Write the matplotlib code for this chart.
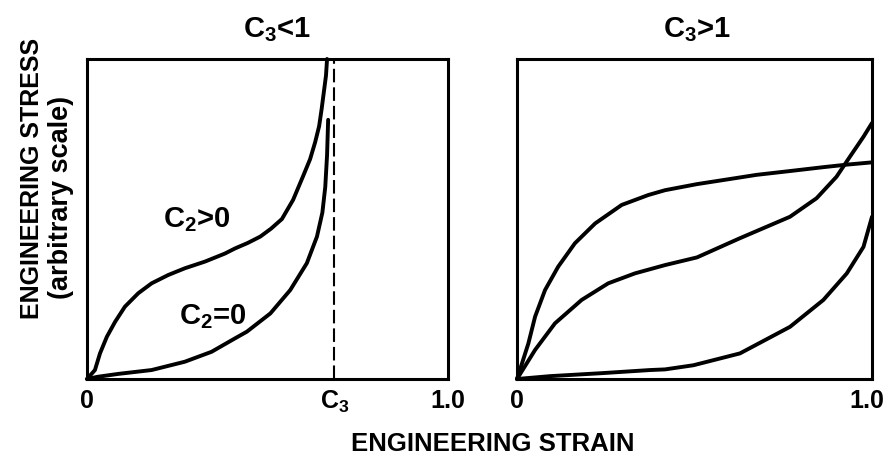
import numpy as np
import matplotlib
matplotlib.use("Agg")
import matplotlib.pyplot as plt
import matplotlib.transforms as mtransforms

plt.rcParams['font.family'] = ['Liberation Sans', 'DejaVu Sans']
plt.rcParams['font.weight'] = 'bold'

# left panel (C3 < 1), strain vs stress, arbitrary scale
c3 = 0.685
c2_pos_x = [0, 0.022, 0.036, 0.055, 0.078, 0.105, 0.142, 0.179, 0.225, 0.271,
            0.327, 0.382, 0.41, 0.445, 0.48, 0.51, 0.54, 0.571, 0.599, 0.618,
            0.632, 0.643, 0.65, 0.656, 0.662, 0.665]
c2_pos_y = [0, 0.028, 0.08, 0.132, 0.179, 0.226, 0.268, 0.299, 0.325, 0.346,
            0.367, 0.392, 0.408, 0.425, 0.445, 0.47, 0.50, 0.56, 0.635, 0.687,
            0.74, 0.79, 0.844, 0.896, 0.948, 1.0]
c2_zero_x = [0, 0.03, 0.087, 0.179, 0.271, 0.345, 0.41, 0.443, 0.508, 0.563,
             0.609, 0.637, 0.652, 0.660, 0.665, 0.668]
c2_zero_y = [0, 0.007, 0.016, 0.028, 0.054, 0.085, 0.127, 0.148, 0.205, 0.278,
             0.362, 0.445, 0.52, 0.60, 0.70, 0.81]

# right panel (C3 > 1), three curves
a_x = [0, 0.032, 0.051, 0.079, 0.116, 0.163, 0.22, 0.295, 0.37, 0.417, 0.507,
       0.6, 0.675, 0.77, 0.863, 0.93, 1.0]
a_y = [0, 0.111, 0.195, 0.278, 0.351, 0.424, 0.486, 0.544, 0.575, 0.59, 0.609,
       0.625, 0.638, 0.65, 0.662, 0.67, 0.677]
b_x = [0, 0.051, 0.107, 0.182, 0.257, 0.332, 0.417, 0.507, 0.628, 0.769, 0.844,
       0.90, 0.938, 0.976, 1.0]
b_y = [0, 0.091, 0.174, 0.247, 0.299, 0.33, 0.356, 0.38, 0.44, 0.507, 0.565,
       0.632, 0.695, 0.757, 0.80]
c_x = [0, 0.094, 0.235, 0.375, 0.417, 0.497, 0.628, 0.769, 0.863, 0.929, 0.976, 1.0]
c_y = [0, 0.009, 0.018, 0.028, 0.03, 0.043, 0.08, 0.163, 0.247, 0.33, 0.413, 0.507]

W, H = 886, 458
fig = plt.figure(figsize=(W / 100, H / 100), dpi=100)
ax1 = fig.add_axes([87 / W, 1 - 379 / H, 361 / W, 320 / H])
ax2 = fig.add_axes([517 / W, 1 - 379 / H, 355 / W, 320 / H])

lw = 2.8
style = dict(color='black', lw=lw, solid_capstyle='round',
             solid_joinstyle='round', clip_on=False)
ax1.plot(c2_pos_x, c2_pos_y, **style)
ax1.plot(c2_zero_x, c2_zero_y, **style)
ax1.plot([c3, c3], [0, 1], color='black', lw=1.5, dashes=(6.5, 2.4))
ax1.text(0.305, 0.497, 'C$_\\mathregular{2}$>0', fontsize=21, ha='center', va='center')
ax1.text(0.349, 0.194, 'C$_\\mathregular{2}$=0', fontsize=21, ha='center', va='center')

for x, y in [(a_x, a_y), (b_x, b_y), (c_x, c_y)]:
    ax2.plot(x, y, **style)

for ax in (ax1, ax2):
    ax.set_xlim(0, 1)
    ax.set_ylim(0, 1)
    ax.set_yticks([])
    for s in ax.spines.values():
        s.set_linewidth(2.2)
    ax.tick_params(axis='x', length=0, pad=7, labelsize=18)

ax1.set_xticks([0, c3, 1.0], ['0', 'C$_\\mathregular{3}$', '1.0'])
ax2.set_xticks([0, 1.0], ['0', '1.0'])
# keep the last label inside the figure
lab = ax2.get_xticklabels()[-1]
lab.set_transform(lab.get_transform() +
                  mtransforms.ScaledTranslation(-4 / 72, 0, fig.dpi_scale_trans))

fig.text(277 / W, 1 - 30 / H, 'C$_\\mathregular{3}$<1', fontsize=21, ha='center', va='center')
fig.text(697 / W, 1 - 30 / H, 'C$_\\mathregular{3}$>1', fontsize=21, ha='center', va='center')
fig.text(493 / W, 1 - 444 / H, 'ENGINEERING STRAIN', fontsize=18.5, ha='center', va='center')
fig.text(32 / W, 1 - 178 / H, 'ENGINEERING STRESS', fontsize=18, ha='center',
         va='center', rotation=90)
fig.text(61 / W, 1 - 197 / H, '(arbitrary scale)', fontsize=19.5, ha='center',
         va='center', rotation=90)

fig.savefig('out.png', dpi=100)
